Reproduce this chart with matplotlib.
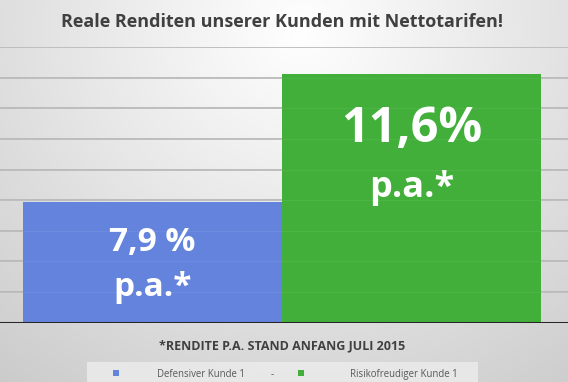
import numpy as np
import matplotlib
matplotlib.use("Agg")
import matplotlib.pyplot as plt
from matplotlib.patches import Rectangle

categories = ["Defensiver Kunde 1", "Risikofreudiger Kunde 1"]
values = [7.9, 11.6]
bar_labels = [("7,9 %", "p.a.*"), ("11,6%", "p.a.*")]
colors = ["#6383DC", "#41AF3A"]
title = "Reale Renditen unserer Kunden mit Nettotarifen!"
footnote = "*RENDITE P.A. STAND ANFANG JULI 2015"

W, H = 568, 382
fig = plt.figure(figsize=(W / 100, H / 100), dpi=100)

# background gradient
bg = fig.add_axes([0, 0, 1, 1], zorder=-10)
yy, xx = np.mgrid[0:H, 0:W]
d = np.sqrt(((xx - 300) / 400.0) ** 2 + ((yy - 30) / 380.0) ** 2)
val = 1.0 - 0.17 * np.clip(d, 0, 1.3)
img = np.dstack([val, val, val])
bg.imshow(img, extent=[0, W, H, 0], aspect="auto", interpolation="bilinear")
bg.set_xlim(0, W)
bg.set_ylim(H, 0)
bg.axis("off")

# plot axes
ax = fig.add_axes([0, (H - 322.5) / H, 1, (322.5 - 47.3) / H])
ax.patch.set_alpha(0)
x = np.arange(len(values))
ppu = 128 / (values[1] - values[0])
ymin = values[0] - 120 / ppu
ymax = ymin + 275.2 / ppu
ax.set_ylim(ymin, ymax)
ax.set_xlim(-152.5 / 259, (568 - 152.5) / 259)
ax.bar(x, [v - ymin for v in values], bottom=ymin, width=1.0, color=colors,
       edgecolor="none", zorder=3)
ticks = np.linspace(ymin, ymax, 10)
for t in ticks[1:]:
    ax.axhline(t, color="#b8b8b8", lw=1.3, zorder=1)
for t in ticks[1:]:
    ax.axhline(t, color="white", lw=0.8, alpha=0.06, zorder=4)
ax.axhline(ymin, color="#262626", lw=2.2, zorder=5)
for s in ax.spines.values():
    s.set_visible(False)
ax.set_xticks([])
ax.set_yticks([])

font = "Open Sans"
ax.text(x[0], values[0] - 1.4, bar_labels[0][0], ha="center", va="baseline", color="white",
        fontsize=24, fontweight="bold", family=font, zorder=6)
ax.text(x[0], values[0] - 2.7, bar_labels[0][1], ha="center", va="baseline", color="white",
        fontsize=24, fontweight="bold", family=font, zorder=6)
ax.text(x[1], values[1] - 1.95, bar_labels[1][0], ha="center", va="baseline", color="white",
        fontsize=35, fontweight="bold", family=font, zorder=6)
ax.text(x[1], values[1] - 3.55, bar_labels[1][1], ha="center", va="baseline", color="white",
        fontsize=26, fontweight="bold", family=font, zorder=6)

fig.text(282 / W, 1 - 27 / H, title, ha="center", va="baseline", fontsize=13,
         fontweight="bold", color="#404040", family=font)
fig.text(282 / W, 1 - 349 / H, footnote, ha="center", va="baseline", fontsize=9,
         fontweight="bold", color="#404040", family=font)

# legend box
bg.add_patch(Rectangle((87, 362), 391, 22, facecolor="#ebebeb", edgecolor="none", alpha=0.85))
bg.add_patch(Rectangle((113, 370), 6, 6, facecolor=colors[0], edgecolor="none"))
bg.add_patch(Rectangle((298, 370), 6, 6, facecolor=colors[1], edgecolor="none"))
fig.text(201 / W, 1 - 377 / H, categories[0], ha="center", va="baseline", fontsize=6.9,
         color="#595959", family=font)
fig.text(272 / W, 1 - 377 / H, "-", ha="center", va="baseline", fontsize=6.9,
         color="#595959", family=font)
fig.text(404 / W, 1 - 377 / H, categories[1], ha="center", va="baseline", fontsize=6.9,
         color="#595959", family=font)

fig.savefig("out.png", dpi=100)
